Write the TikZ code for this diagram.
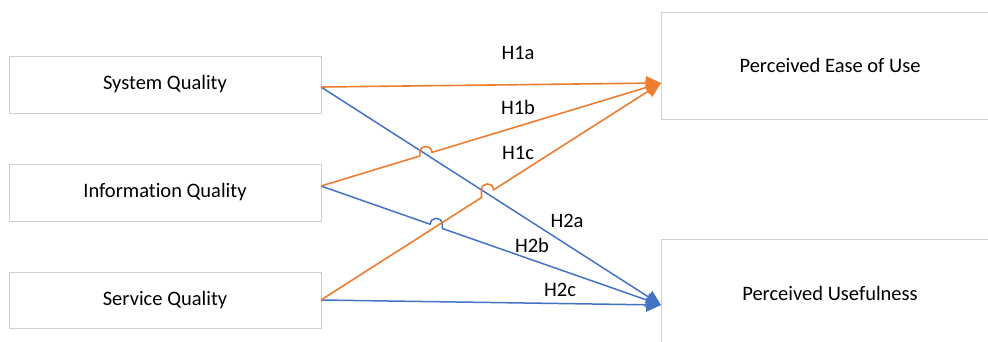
\documentclass[tikz,border=0pt]{standalone}
\usepackage{fontspec}
\setmainfont{Carlito}[Ligatures={NoCommon}]
\usetikzlibrary{arrows.meta,calc}
\definecolor{boxgray}{HTML}{D0D0D0}
\definecolor{hOrange}{HTML}{ED7D31}
\definecolor{hBlue}{HTML}{4472C4}
\tikzset{
  construct/.style={draw=boxgray, line width=1pt, fill=white, outer sep=0pt,
    inner sep=0pt, font=\fontsize{20.5}{24}\selectfont},
  hyplabel/.style={font=\fontsize{20.5}{24}\selectfont, anchor=base, inner sep=0pt},
  pathH1/.style={draw=hOrange, line width=1.6pt, line join=round,
    -{Triangle[length=15pt,width=14pt]}},
  pathH2/.style={draw=hBlue, line width=1.5pt, line join=round,
    -{Triangle[length=15pt,width=14pt]}}
}
\begin{document}
\begin{tikzpicture}[x=1pt, y=-1pt]
  \useasboundingbox (0,0) rectangle (988,341);
  \fill[white] (0,0) rectangle (988,341);
  \clip (0,0) rectangle (988,341);

  % independent constructs
  \node[construct, minimum width=312pt, minimum height=57pt] (sys)  at (165,84.5)  {System Quality};
  \node[construct, minimum width=312pt, minimum height=57pt] (info) at (165,192.5) {Information Quality};
  \node[construct, minimum width=312pt, minimum height=56pt] (serv) at (165,300)   {Service Quality};

  % dependent constructs
  \node[construct, minimum width=338pt, minimum height=107pt] (peou) at (830,65.5) {Perceived Ease of Use};
  \node[construct, minimum width=338pt, minimum height=108pt] (pu)   at (830,293)  {Perceived Usefulness};

  % connector end points
  \coordinate (sQ)   at ($(sys.east)+(0,2.5)$);
  \coordinate (iQ)   at ($(info.east)+(0,-6.5)$);
  \coordinate (svQ)  at (serv.east);
  \coordinate (eTip) at ($(peou.west)+(0,17.5)$);
  \coordinate (uTip) at ($(pu.west)+(0,12)$);

  % H2 paths (blue)
  \draw[pathH2] (sQ) -- (uTip);
  \draw[pathH2] (iQ) -- (430.3,224.3)
    .. controls (430.3,216.3) and (442.3,216.3) .. (442.3,224.3)
    -- (442.3,228.5) -- (uTip);
  \draw[pathH2] (svQ) -- (uTip);

  % H1 paths (orange)
  \draw[pathH1] (sQ) -- (eTip);
  \draw[pathH1] (iQ) -- (419.9,156.0) -- (419.9,152.4)
    .. controls (419.9,144.4) and (431.9,144.4) .. (431.9,152.4) -- (eTip);
  \draw[pathH1] (svQ) -- (481.5,197.5) -- (481.5,189.9)
    .. controls (481.5,181.9) and (493.5,181.9) .. (493.5,189.9) -- (eTip);

  % hypothesis labels
  \node[hyplabel] (h1a) at (518,59)  {H1a};
  \node[hyplabel] (h1b) at (518,114) {H1b};
  \node[hyplabel] (h1c) at (518,159) {H1c};
  \node[hyplabel] (h2a) at (567,227) {H2a};
  \node[hyplabel] (h2b) at (532,252) {H2b};
  \node[hyplabel] (h2c) at (560,296) {H2c};
\end{tikzpicture}
\end{document}
